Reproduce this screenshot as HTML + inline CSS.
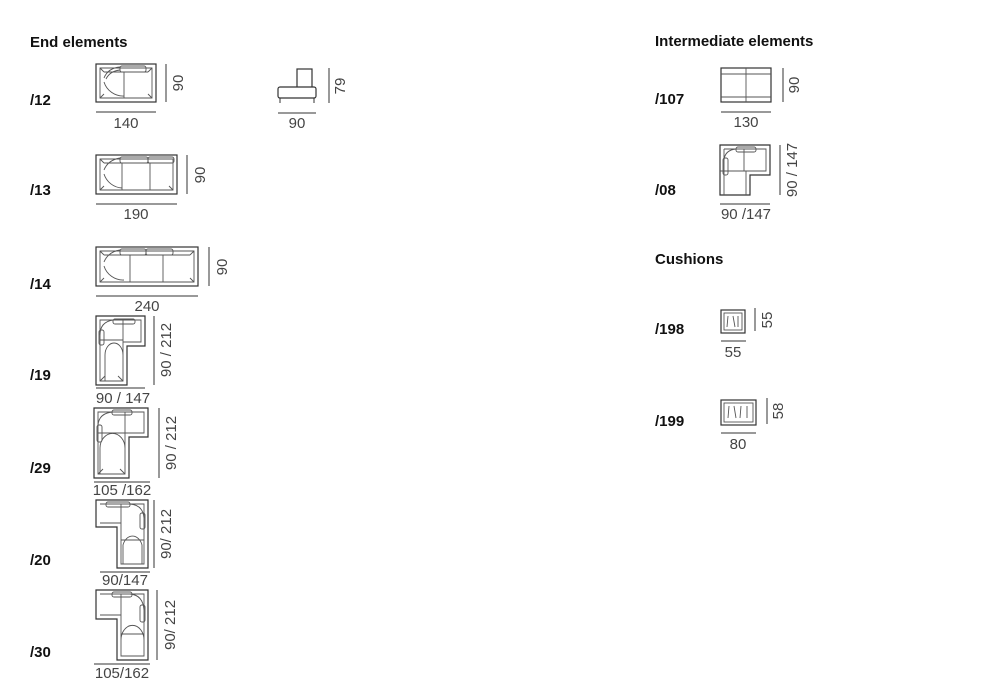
<!DOCTYPE html>
<html><head><meta charset="utf-8"><style>
html,body{margin:0;padding:0;background:#fff}
svg{display:block}
.l{font:bold 15px "Liberation Sans",sans-serif;fill:#111}
.d{font:15px "Liberation Sans",sans-serif;fill:#444}
.o{fill:#fff;stroke:#333;stroke-width:1.2}
.i{fill:none;stroke:#555;stroke-width:0.9}
.m{stroke:#333;stroke-width:1}
</style></head><body>
<svg width="1000" height="700" viewBox="0 0 1000 700">
<text class="l" x="30" y="47">End elements</text>
<text class="l" x="30" y="105">/12</text>
<text class="l" x="30" y="195">/13</text>
<text class="l" x="30" y="289">/14</text>
<text class="l" x="30" y="380">/19</text>
<text class="l" x="30" y="473">/29</text>
<text class="l" x="30" y="565">/20</text>
<text class="l" x="30" y="657">/30</text>
<text class="l" x="655" y="46">Intermediate elements</text>
<text class="l" x="655" y="104">/107</text>
<text class="l" x="655" y="195">/08</text>
<text class="l" x="655" y="264">Cushions</text>
<text class="l" x="655" y="334">/198</text>
<text class="l" x="655" y="426">/199</text>

<!-- /12 -->
<rect class="o" x="96" y="64" width="60" height="38"/>
<path class="i" d="M100,68 H152 V98 H100 Z M100,68 L104,72 M152,68 L148,72 M100,98 L104,94 M152,98 L148,94 M124,72 V98 M104,72 H148"/>
<path class="i" d="M104,82 A20,20 0 0 0 124,96 M104,78 Q108,68 120,67 M106,79 Q110,71 120,70"/>
<rect class="i" x="120" y="66" width="26" height="6" rx="2"/>
<line class="m" x1="166" y1="64" x2="166" y2="102"/>
<text class="d" transform="translate(183,83) rotate(-90)" text-anchor="middle">90</text>
<line class="m" x1="96" y1="112" x2="156" y2="112"/>
<text class="d" x="126" y="128" text-anchor="middle">140</text>
<!-- side view -->
<rect class="o" x="297" y="69" width="15" height="19"/>
<rect class="o" x="278" y="87" width="38" height="11" rx="2"/>
<line class="m" x1="280" y1="98" x2="280" y2="103"/><line class="m" x1="314" y1="98" x2="314" y2="103"/>
<line class="m" x1="329" y1="68" x2="329" y2="103"/>
<text class="d" transform="translate(345,86) rotate(-90)" text-anchor="middle">79</text>
<line class="m" x1="278" y1="113" x2="316" y2="113"/>
<text class="d" x="297" y="128" text-anchor="middle">90</text>

<!-- /13 -->
<rect class="o" x="96" y="155" width="81" height="39"/>
<path class="i" d="M100,159 H173 V190 H100 Z M100,159 L104,163 M100,190 L104,186 M173,190 L169,186 M122,163 V190 M150,163 V190 M104,163 H170"/>
<path class="i" d="M104,174 A20,20 0 0 0 122,188 M104,170 Q108,160 120,158"/>
<rect class="i" x="120" y="157" width="28" height="6" rx="2"/><rect class="i" x="148" y="157" width="26" height="6" rx="2"/>
<line class="m" x1="187" y1="155" x2="187" y2="194"/>
<text class="d" transform="translate(205,175) rotate(-90)" text-anchor="middle">90</text>
<line class="m" x1="96" y1="204" x2="177" y2="204"/>
<text class="d" x="136" y="219" text-anchor="middle">190</text>

<!-- /14 -->
<rect class="o" x="96" y="247" width="102" height="39"/>
<path class="i" d="M100,251 H194 V282 H100 Z M100,251 L104,255 M100,282 L104,278 M194,282 L190,278 M194,251 L190,255 M130,255 V282 M163,255 V282 M104,255 H190"/>
<path class="i" d="M104,266 A20,20 0 0 0 124,280 M104,262 Q108,252 120,250"/>
<rect class="i" x="120" y="249" width="26" height="6" rx="2"/><rect class="i" x="146" y="249" width="27" height="6" rx="2"/>
<line class="m" x1="209" y1="247" x2="209" y2="286"/>
<text class="d" transform="translate(227,267) rotate(-90)" text-anchor="middle">90</text>
<line class="m" x1="96" y1="296" x2="198" y2="296"/>
<text class="d" x="147" y="311" text-anchor="middle">240</text>

<!-- /19 -->
<path class="o" d="M96,316 H145 V346 H127 V385 H96 Z"/>
<path class="i" d="M100,320 H141 V342 H123 V381 H100 Z M100,340 H123 M123,320 V342 M105,381 V355 A9,12 0 0 1 123,355 V381 M100,381 L105,376 M123,381 L118,376"/>
<path class="i" d="M100,335 Q100,322 113,320"/><rect class="i" x="99" y="330" width="5" height="15" rx="2"/><rect class="i" x="113" y="319" width="22" height="5" rx="2"/>
<line class="m" x1="154" y1="316" x2="154" y2="385"/>
<text class="d" transform="translate(171,350) rotate(-90)" text-anchor="middle">90 / 212</text>
<line class="m" x1="96" y1="388" x2="145" y2="388"/>
<text class="d" x="123" y="403" text-anchor="middle">90 / 147</text>

<!-- /29 -->
<path class="o" d="M94,408 H148 V437 H129 V478 H94 Z"/>
<path class="i" d="M98,412 H144 V433 H125 V474 H98 Z M98,433 H125 M125,412 V433 M100,474 V448 A12,14 0 0 1 125,448 V474 M98,474 L103,469 M125,474 L120,469"/>
<path class="i" d="M98,425 Q99,413 113,412"/><rect class="i" x="97" y="425" width="5" height="17" rx="2"/><rect class="i" x="112" y="410" width="20" height="5" rx="2"/>
<line class="m" x1="159" y1="408" x2="159" y2="478"/>
<text class="d" transform="translate(176,443) rotate(-90)" text-anchor="middle">90 / 212</text>
<line class="m" x1="94" y1="482" x2="150" y2="482"/>
<text class="d" x="122" y="495" text-anchor="middle">105 /162</text>

<!-- /20 -->
<path class="o" d="M96,500 H148 V568 H117 V527 H96 Z"/>
<path class="i" d="M100,504 H144 V564 H121 V523 H100 M121,504 V523 M121,540 H144 M123,564 V545 A10,13 0 0 1 142,545 V564"/>
<path class="i" d="M144,518 Q143,505 130,504"/><rect class="i" x="140" y="513" width="5" height="16" rx="2"/><rect class="i" x="106" y="502" width="24" height="5" rx="2"/>
<line class="m" x1="154" y1="500" x2="154" y2="568"/>
<text class="d" transform="translate(171,534) rotate(-90)" text-anchor="middle">90/ 212</text>
<line class="m" x1="100" y1="572" x2="150" y2="572"/>
<text class="d" x="125" y="585" text-anchor="middle">90/147</text>

<!-- /30 -->
<path class="o" d="M96,590 H148 V660 H117 V619 H96 Z"/>
<path class="i" d="M100,594 H144 V656 H121 V615 H100 M121,594 V615 M121,634 H144 M121,656 V640 A11,14 0 0 1 144,640 V656"/>
<path class="i" d="M144,610 Q143,595 130,594"/><rect class="i" x="140" y="605" width="5" height="17" rx="2"/><rect class="i" x="112" y="592" width="20" height="5" rx="2"/>
<line class="m" x1="157" y1="590" x2="157" y2="660"/>
<text class="d" transform="translate(175,625) rotate(-90)" text-anchor="middle">90/ 212</text>
<line class="m" x1="94" y1="664" x2="150" y2="664"/>
<text class="d" x="122" y="678" text-anchor="middle">105/162</text>

<!-- /107 -->
<rect class="o" x="721" y="68" width="50" height="34"/>
<path class="i" d="M721,74 H771 M721,97 H771 M746,68 V102"/>
<line class="m" x1="783" y1="68" x2="783" y2="102"/>
<text class="d" transform="translate(799,85) rotate(-90)" text-anchor="middle">90</text>
<line class="m" x1="721" y1="112" x2="771" y2="112"/>
<text class="d" x="746" y="127" text-anchor="middle">130</text>

<!-- /08 -->
<path class="o" d="M720,145 H770 V175 H750 V195 H720 Z"/>
<path class="i" d="M724,149 H766 V171 H746 V195 M724,149 V195 M744,149 V171 M720,171 H746 M724,160 Q725,150 736,149"/>
<rect class="i" x="723" y="158" width="5" height="17" rx="2"/><rect class="i" x="736" y="147" width="20" height="5" rx="2"/>
<line class="m" x1="780" y1="145" x2="780" y2="195"/>
<text class="d" transform="translate(797,170) rotate(-90)" text-anchor="middle">90 / 147</text>
<line class="m" x1="720" y1="204" x2="770" y2="204"/>
<text class="d" x="746" y="219" text-anchor="middle">90 /147</text>

<!-- /198 -->
<rect class="o" x="721" y="310" width="24" height="23" stroke-width="1.5"/>
<rect class="i" x="724" y="313" width="18" height="17"/>
<path class="i" d="M728,316 L727,327 M733,316 L735,327 M738,316 V327"/>
<line class="m" x1="755" y1="308" x2="755" y2="331"/>
<text class="d" transform="translate(772,320) rotate(-90)" text-anchor="middle">55</text>
<line class="m" x1="721" y1="341" x2="746" y2="341"/>
<text class="d" x="733" y="357" text-anchor="middle">55</text>

<!-- /199 -->
<rect class="o" x="721" y="400" width="35" height="25" stroke-width="1.5"/>
<rect class="i" x="724" y="403" width="29" height="19"/>
<path class="i" d="M729,406 L728,418 M734,406 L736,418 M741,406 L740,418 M747,406 V418"/>
<line class="m" x1="767" y1="398" x2="767" y2="424"/>
<text class="d" transform="translate(783,411) rotate(-90)" text-anchor="middle">58</text>
<line class="m" x1="721" y1="433" x2="756" y2="433"/>
<text class="d" x="738" y="449" text-anchor="middle">80</text>
</svg>
</body></html>
